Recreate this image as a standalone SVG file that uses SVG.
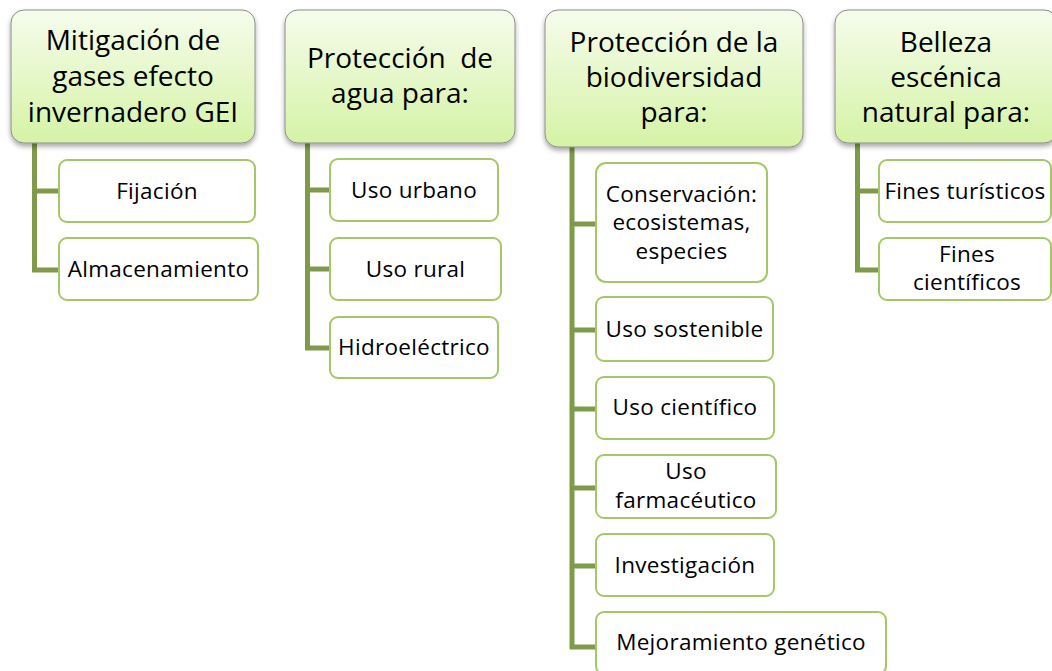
<svg xmlns="http://www.w3.org/2000/svg" width="1052" height="671" viewBox="0 0 1052 671">
  <defs>
    <linearGradient id="hg" x1="0" y1="0" x2="0" y2="1">
      <stop offset="0" stop-color="#f6fcec"/>
      <stop offset="1" stop-color="#d5f3a6"/>
    </linearGradient>
    <filter id="sh" x="-10%" y="-10%" width="120%" height="130%">
      <feDropShadow dx="0" dy="3" stdDeviation="2.5" flood-color="#000" flood-opacity="0.35"/>
    </filter>
  </defs>
  <style>
    .hdr { fill: url(#hg); stroke: #8c8c8c; stroke-width: 1; filter: url(#sh); }
    .box { fill: #ffffff; stroke: #a3c865; stroke-width: 2; }
    .ht { font-family: "Open Sans", "Liberation Sans", sans-serif; font-size: 28px; fill: #000; text-anchor: middle; }
    .bt { font-family: "Open Sans", "Liberation Sans", sans-serif; font-size: 22.5px; letter-spacing: 0.3px; fill: #000; text-anchor: middle; }
    .con { fill: none; stroke: #7f9a48; stroke-width: 5; stroke-linejoin: miter; }
  </style>
  <rect width="1052" height="671" fill="#ffffff"/>

  <g id="connectors">
    <path class="con" d="M34.5 143 V270 H59 M34.5 191 H59"/>
    <path class="con" d="M307.5 143 V348 H330 M307.5 190 H330 M307.5 269 H330"/>
    <path class="con" d="M572 147 V647 H596 M572 224 H596 M572 330 H596 M572 409 H596 M572 488 H596 M572 566 H596"/>
    <path class="con" d="M857.5 143 V270 H879 M857.5 191 H879"/>
  </g>

  <g id="h1">
    <rect class="hdr" x="11" y="10" width="244" height="133" rx="13"/>
    <text class="ht" x="133" y="50">Mitigación de</text>
    <text class="ht" x="133" y="86">gases efecto</text>
    <text class="ht" x="133" y="122">invernadero GEI</text>
  </g>
  <g id="n-fijacion">
    <rect class="box" x="59" y="160" width="196" height="62" rx="8"/>
    <text class="bt" x="157" y="199">Fijación</text>
  </g>
  <g id="n-almacenamiento">
    <rect class="box" x="59" y="238" width="199" height="62" rx="8"/>
    <text class="bt" x="158.5" y="277">Almacenamiento</text>
  </g>

  <g id="h2">
    <rect class="hdr" x="285" y="10" width="230" height="133" rx="13"/>
    <text class="ht" x="400" y="68" xml:space="preserve">Protección  de</text>
    <text class="ht" x="400" y="103">agua para:</text>
  </g>
  <g id="n-urbano">
    <rect class="box" x="330" y="159" width="168" height="62" rx="8"/>
    <text class="bt" x="414" y="198">Uso urbano</text>
  </g>
  <g id="n-rural">
    <rect class="box" x="330" y="238" width="171" height="62" rx="8"/>
    <text class="bt" x="415.5" y="277">Uso rural</text>
  </g>
  <g id="n-hidro">
    <rect class="box" x="330" y="317" width="168" height="61" rx="8"/>
    <text class="bt" x="414" y="355">Hidroeléctrico</text>
  </g>

  <g id="h3">
    <rect class="hdr" x="545" y="10" width="258" height="137" rx="13"/>
    <text class="ht" x="674" y="52">Protección de la</text>
    <text class="ht" x="674" y="87">biodiversidad</text>
    <text class="ht" x="674" y="122">para:</text>
  </g>
  <g id="n-conservacion">
    <rect class="box" x="596" y="163" width="171" height="119" rx="10"/>
    <text class="bt" x="681.5" y="201.5">Conservación:</text>
    <text class="bt" x="681.5" y="230">ecosistemas,</text>
    <text class="bt" x="681.5" y="258.5">especies</text>
  </g>
  <g id="n-sostenible">
    <rect class="box" x="596" y="297" width="177" height="64" rx="8"/>
    <text class="bt" x="684.5" y="337">Uso sostenible</text>
  </g>
  <g id="n-cientifico">
    <rect class="box" x="596" y="377" width="178" height="62" rx="8"/>
    <text class="bt" x="685" y="415">Uso científico</text>
  </g>
  <g id="n-farmaceutico">
    <rect class="box" x="596" y="455" width="180" height="63" rx="8"/>
    <text class="bt" x="686" y="479">Uso</text>
    <text class="bt" x="686" y="507.5">farmacéutico</text>
  </g>
  <g id="n-investigacion">
    <rect class="box" x="596" y="534" width="178" height="62" rx="8"/>
    <text class="bt" x="685" y="573">Investigación</text>
  </g>
  <g id="n-mejoramiento">
    <rect class="box" x="596" y="612" width="290" height="62" rx="8"/>
    <text class="bt" x="741" y="650">Mejoramiento genético</text>
  </g>

  <g id="h4">
    <rect class="hdr" x="835" y="10" width="222" height="133" rx="13"/>
    <text class="ht" x="946" y="52">Belleza</text>
    <text class="ht" x="946" y="87">escénica</text>
    <text class="ht" x="946" y="122">natural para:</text>
  </g>
  <g id="n-turisticos">
    <rect class="box" x="879" y="160" width="172" height="62" rx="8"/>
    <text class="bt" x="965" y="199">Fines turísticos</text>
  </g>
  <g id="n-cientificos">
    <rect class="box" x="879" y="238" width="172" height="62" rx="8"/>
    <text class="bt" x="967" y="261.5">Fines</text>
    <text class="bt" x="967" y="290">científicos</text>
  </g>
</svg>
